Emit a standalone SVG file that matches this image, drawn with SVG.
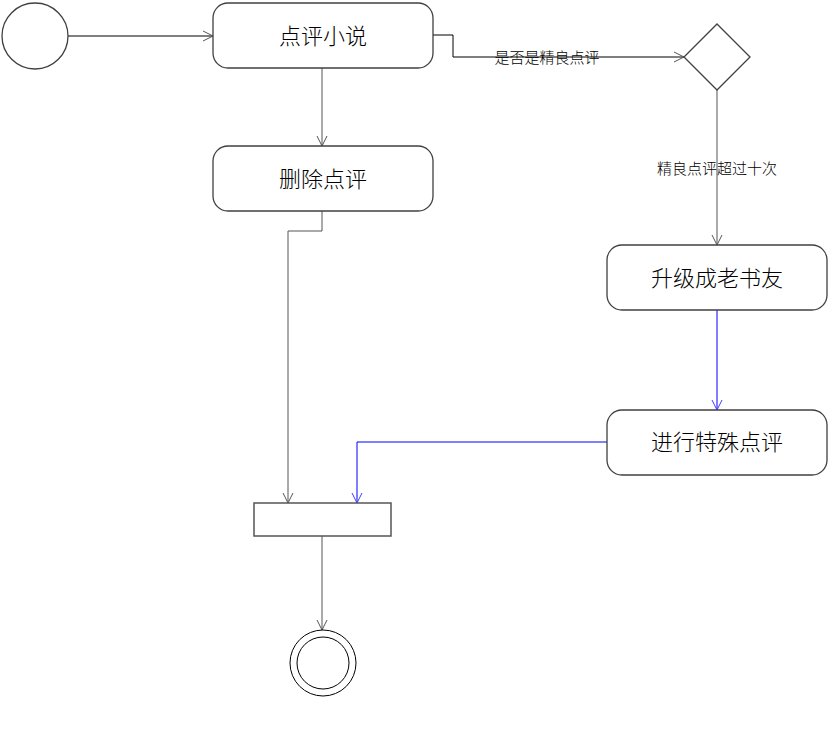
<svg xmlns="http://www.w3.org/2000/svg" width="831" height="742" viewBox="0 0 831 742">
<defs>
<style>
.node{fill:#fff;stroke:#404040;stroke-width:1.3}
.t{font-family:"Liberation Sans","Noto Sans CJK SC",sans-serif;font-size:22px;font-weight:300;fill:#000;text-anchor:middle;dominant-baseline:central}
.lbl{font-family:"Liberation Sans","Noto Sans CJK SC",sans-serif;font-size:15px;font-weight:300;fill:#000;text-anchor:middle;dominant-baseline:central}
.c{fill:none;stroke:#000;stroke-width:1}
.cg{fill:none;stroke:#555;stroke-width:1}
.cb{fill:none;stroke:#0000ff;stroke-width:1}
</style>
<marker id="a" markerWidth="12" markerHeight="12" refX="11" refY="6" orient="auto" markerUnits="userSpaceOnUse"><path d="M1,1 L11,6 L1,11" fill="none" stroke="#555" stroke-width="1"/></marker>
<marker id="ab" markerWidth="12" markerHeight="12" refX="11" refY="6" orient="auto" markerUnits="userSpaceOnUse"><path d="M1,1 L11,6 L1,11" fill="none" stroke="#4040ff" stroke-width="1"/></marker>
</defs>
<g id="connectors">
<path class="c" d="M68,36 H213" marker-end="url(#a)"/>
<path class="c" d="M433,35 H453 V57 H684" marker-end="url(#a)"/>
<path class="cg" d="M322,68 V146" marker-end="url(#a)"/>
<path class="cg" d="M717,90 V245" marker-end="url(#a)"/>
<path class="cb" d="M717,310 V410" marker-end="url(#ab)"/>
<path class="cb" d="M607,442 H357 V503" marker-end="url(#ab)"/>
<path class="cg" d="M322,211 V231 H288 V503" marker-end="url(#a)"/>
<path class="cg" d="M322,536 V630" marker-end="url(#a)"/>
<text class="lbl" x="547" y="57">是否是精良点评</text>
<text class="lbl" x="717" y="168">精良点评超过十次</text>
</g>
<g id="start"><circle cx="35" cy="36" r="33" class="node"/></g>
<g id="n1"><rect x="213" y="3" width="220" height="65" rx="15" class="node"/><text class="t" x="323" y="36">点评小说</text></g>
<g id="n2"><rect x="213" y="146" width="220" height="65" rx="15" class="node"/><text class="t" x="323" y="179">删除点评</text></g>
<g id="decision"><polygon points="717,24 750,57 717,90 684,57" class="node"/></g>
<g id="n3"><rect x="607" y="245" width="220" height="65" rx="15" class="node"/><text class="t" x="717" y="278">升级成老书友</text></g>
<g id="n4"><rect x="607" y="410" width="220" height="65" rx="15" class="node"/><text class="t" x="717" y="442">进行特殊点评</text></g>
<g id="join"><rect x="254" y="503" width="137" height="33" fill="#fff" stroke="#555" stroke-width="1.5"/></g>
<g id="end"><circle cx="323" cy="663" r="33" fill="#fff" stroke="#000" stroke-width="1"/><circle cx="323" cy="663" r="26" fill="#fff" stroke="#000" stroke-width="1"/></g>
</svg>
